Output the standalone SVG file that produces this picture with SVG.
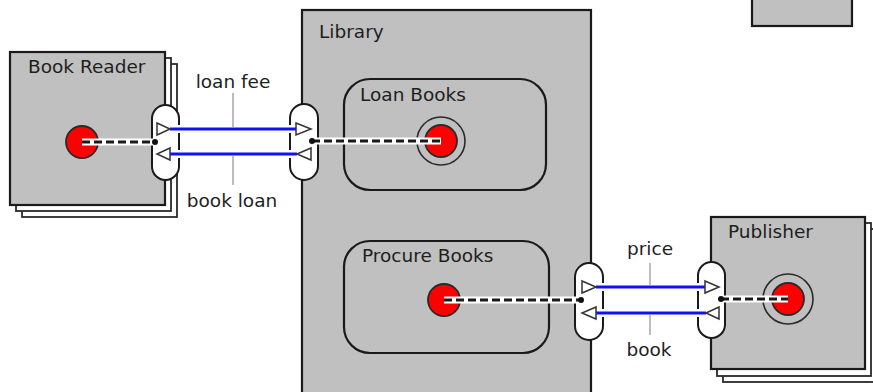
<svg xmlns="http://www.w3.org/2000/svg" width="873" height="392" viewBox="0 0 873 392">
<style>
.frame{fill:#c0c0c0;stroke:#1a1a1a;stroke-width:2.2}
.shadow{fill:#ffffff;stroke:#2a2a2a;stroke-width:1.8}
.region{fill:none;stroke:#1a1a1a;stroke-width:2.2}
.lbl{font-family:"DejaVu Sans",Verdana,sans-serif;font-size:18.5px;fill:#1e1e1e}
.pill{fill:#ffffff;stroke:#1a1a1a;stroke-width:2}
.tri{fill:#ffffff;stroke:#333333;stroke-width:1.5;stroke-linejoin:miter}
.red{fill:#ff0000;stroke:#2a2a2a;stroke-width:1.8}
.ring{fill:none;stroke:#2a2a2a;stroke-width:1.6}
.dot{fill:#111111}
.case{stroke:#ffffff;stroke-width:8;fill:none}
.blue{stroke:#1010ff;stroke-width:3;fill:none}
.dcase{stroke:#ffffff;stroke-width:7;fill:none}
.dash{stroke:#1a1a1a;stroke-width:3;stroke-dasharray:8 4;fill:none}
.tick{stroke:#bdbdbd;stroke-width:2}
</style>

<g id="corner-box">
<rect class="frame" x="752" y="-5" width="100" height="31"/>
</g>

<g id="library">
<rect class="frame" x="302" y="10" width="289" height="400"/>
<text class="lbl" x="319" y="38">Library</text>
</g>

<g id="loan-books">
<rect class="region" x="344" y="79" width="202" height="111" rx="26"/>
<text class="lbl" x="360" y="101">Loan Books</text>
</g>

<g id="procure-books">
<rect class="region" x="344" y="241" width="205" height="112" rx="26"/>
<text class="lbl" x="362" y="262">Procure Books</text>
</g>

<g id="book-reader">
<rect class="shadow" x="22" y="64" width="155" height="153"/>
<rect class="shadow" x="16" y="58" width="155" height="153"/>
<rect class="frame" x="10" y="52" width="155" height="153"/>
<text class="lbl" x="28" y="73">Book Reader</text>
</g>

<g id="publisher">
<rect class="shadow" x="723" y="229" width="154" height="153"/>
<rect class="shadow" x="717" y="223" width="154" height="153"/>
<rect class="frame" x="711" y="217" width="154" height="152"/>
<text class="lbl" x="728" y="238">Publisher</text>
</g>

<g id="states">
<circle class="red" cx="82" cy="142" r="16"/>
<circle class="ring" cx="441" cy="141" r="24"/>
<circle class="red" cx="441" cy="141" r="16"/>
<circle class="red" cx="444" cy="300" r="16"/>
<circle class="ring" cx="788" cy="299" r="25"/>
<circle class="red" cx="788" cy="299" r="16"/>
</g>

<g id="ports">
<rect class="pill" x="152" y="105" width="27" height="75" rx="13.5"/>
<rect class="pill" x="290" y="104" width="28" height="76" rx="14"/>
<rect class="pill" x="575" y="263" width="28" height="77" rx="14"/>
<rect class="pill" x="698" y="262" width="27" height="76" rx="13.5"/>
</g>

<g id="connectors">
<line class="dcase" x1="82" y1="142" x2="155" y2="142"/>
<line class="dash" x1="82" y1="142" x2="155" y2="142"/>
<line class="dcase" x1="312" y1="141" x2="441" y2="141"/>
<line class="dash" x1="312" y1="141" x2="441" y2="141"/>
<line class="dcase" x1="444" y1="300" x2="581" y2="300"/>
<line class="dash" x1="444" y1="300" x2="581" y2="300"/>
<line class="dcase" x1="721" y1="299" x2="788" y2="299"/>
<line class="dash" x1="721" y1="299" x2="788" y2="299"/>

<line class="case" x1="170" y1="129" x2="296" y2="129"/>
<line class="case" x1="170" y1="154" x2="297" y2="154"/>
<line class="blue" x1="170" y1="129" x2="296" y2="129"/>
<line class="blue" x1="170" y1="154" x2="297" y2="154"/>
<line class="case" x1="596" y1="287" x2="705" y2="287"/>
<line class="case" x1="596" y1="313" x2="706" y2="313"/>
<line class="blue" x1="596" y1="287" x2="705" y2="287"/>
<line class="blue" x1="596" y1="313" x2="706" y2="313"/>

<line class="tick" x1="233" y1="93" x2="233" y2="127"/>
<line class="tick" x1="233" y1="156" x2="233" y2="185"/>
<line class="tick" x1="650" y1="263" x2="650" y2="285"/>
<line class="tick" x1="650" y1="315" x2="650" y2="335"/>

<text class="lbl" x="233" y="88" text-anchor="middle">loan fee</text>
<text class="lbl" x="232" y="207" text-anchor="middle">book loan</text>
<text class="lbl" x="650" y="255" text-anchor="middle">price</text>
<text class="lbl" x="649" y="356" text-anchor="middle">book</text>
</g>

<g id="port-marks">
<polygon class="tri" points="157,123 170,129 157,135"/>
<polygon class="tri" points="170,148 157,154 170,160"/>
<polygon class="tri" points="296,123 311,129 296,135"/>
<polygon class="tri" points="311,148 297,154 311,160"/>
<polygon class="tri" points="582,281 596,287 582,293"/>
<polygon class="tri" points="596,307 582,313 596,319"/>
<polygon class="tri" points="705,281 719,287 705,293"/>
<polygon class="tri" points="719,307 706,313 719,319"/>
<circle class="dot" cx="155" cy="142" r="3"/>
<circle class="dot" cx="312" cy="141" r="3"/>
<circle class="dot" cx="581" cy="300" r="3"/>
<circle class="dot" cx="721" cy="299" r="3"/>
</g>
</svg>
